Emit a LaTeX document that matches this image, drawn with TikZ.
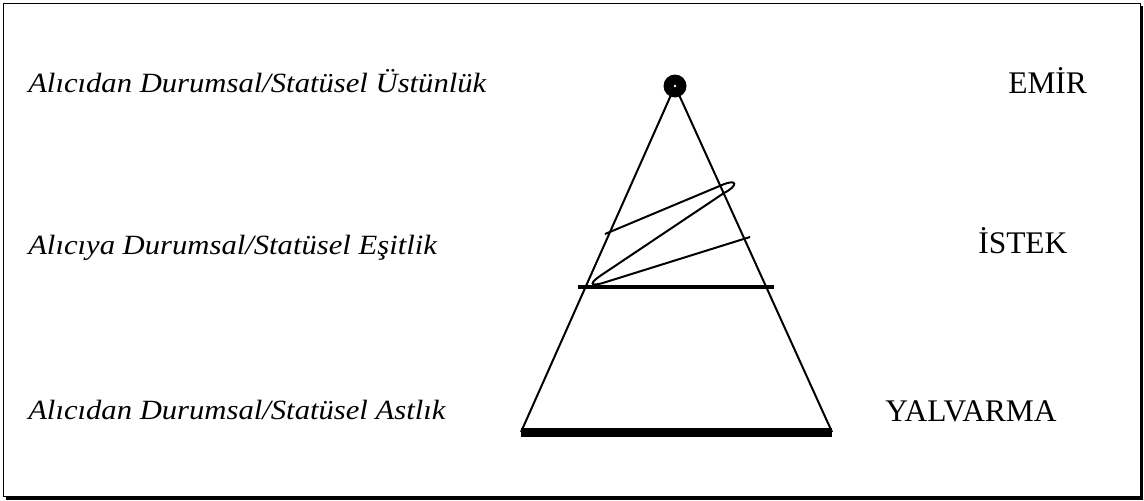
\documentclass[tikz,border=0pt]{standalone}
\usepackage{fontspec}
\setmainfont{Liberation Serif}
\newfontfamily\genisfont[FakeStretch=1.10]{Liberation Serif}
\usetikzlibrary{positioning, calc}

\begin{document}
\begin{tikzpicture}[x=0.75pt, y=-0.75pt,
    leftlabel/.style={anchor=base west, inner sep=0pt, font=\genisfont\fontsize{20.9}{24}\selectfont\itshape},
    rightlabel/.style={anchor=base west, inner sep=0pt, font=\fontsize{23.6}{26}\selectfont},
    side/.style={line width=1.5pt},
    midbar/.style={line width=3pt},
    basebar/.style={line width=6.75pt}]

    \useasboundingbox (0,0) rectangle (1144,500);

    % ============================================================
    % FRAME
    % ============================================================
    \draw[line width=0.75pt] (3,3) rectangle (1140,496);
    \draw[line width=1.6pt] (1142,6) -- (1142,498.5) -- (6,498.5);

    % ============================================================
    % TRIANGLE
    % ============================================================
    \coordinate (tepe) at (675,86);
    \coordinate (solalt) at (521,432);
    \coordinate (sagalt) at (832,432);
    \draw[side] (solalt) -- (tepe) -- (sagalt);
    \draw[basebar] (521,432) -- (832,432);
    \draw[midbar] (578,287) -- (774,287);
    \fill (tepe) circle (11.5);
    \fill[white] (tepe) circle (1.3);

    % ============================================================
    % SPIRAL
    % ============================================================
    \draw[line width=1.5pt]
        (605,234) -- (722,185)
        .. controls (738,178) and (738,186) .. (724,193)
        -- (600,276)
        .. controls (586,286) and (594,286) .. (606,282)
        .. controls (670,262) .. (750,237);

    % ============================================================
    % LEFT LABELS
    % ============================================================
    \node[leftlabel] (ustun) at (28,92) {Alıcıdan Durumsal/Statüsel Üstünlük};
    \node[leftlabel] (esit) at (28,254) {Alıcıya Durumsal/Statüsel Eşitlik};
    \node[leftlabel] (ast) at (28,419) {Alıcıdan Durumsal/Statüsel Astlık};

    % ============================================================
    % RIGHT LABELS
    % ============================================================
    \node[rightlabel] (emir) at (1008,93) {EMİR};
    \node[rightlabel] (istek) at (978,253) {İSTEK};
    \node[rightlabel] (yalvarma) at (885,421) {YALVARMA};

\end{tikzpicture}
\end{document}
